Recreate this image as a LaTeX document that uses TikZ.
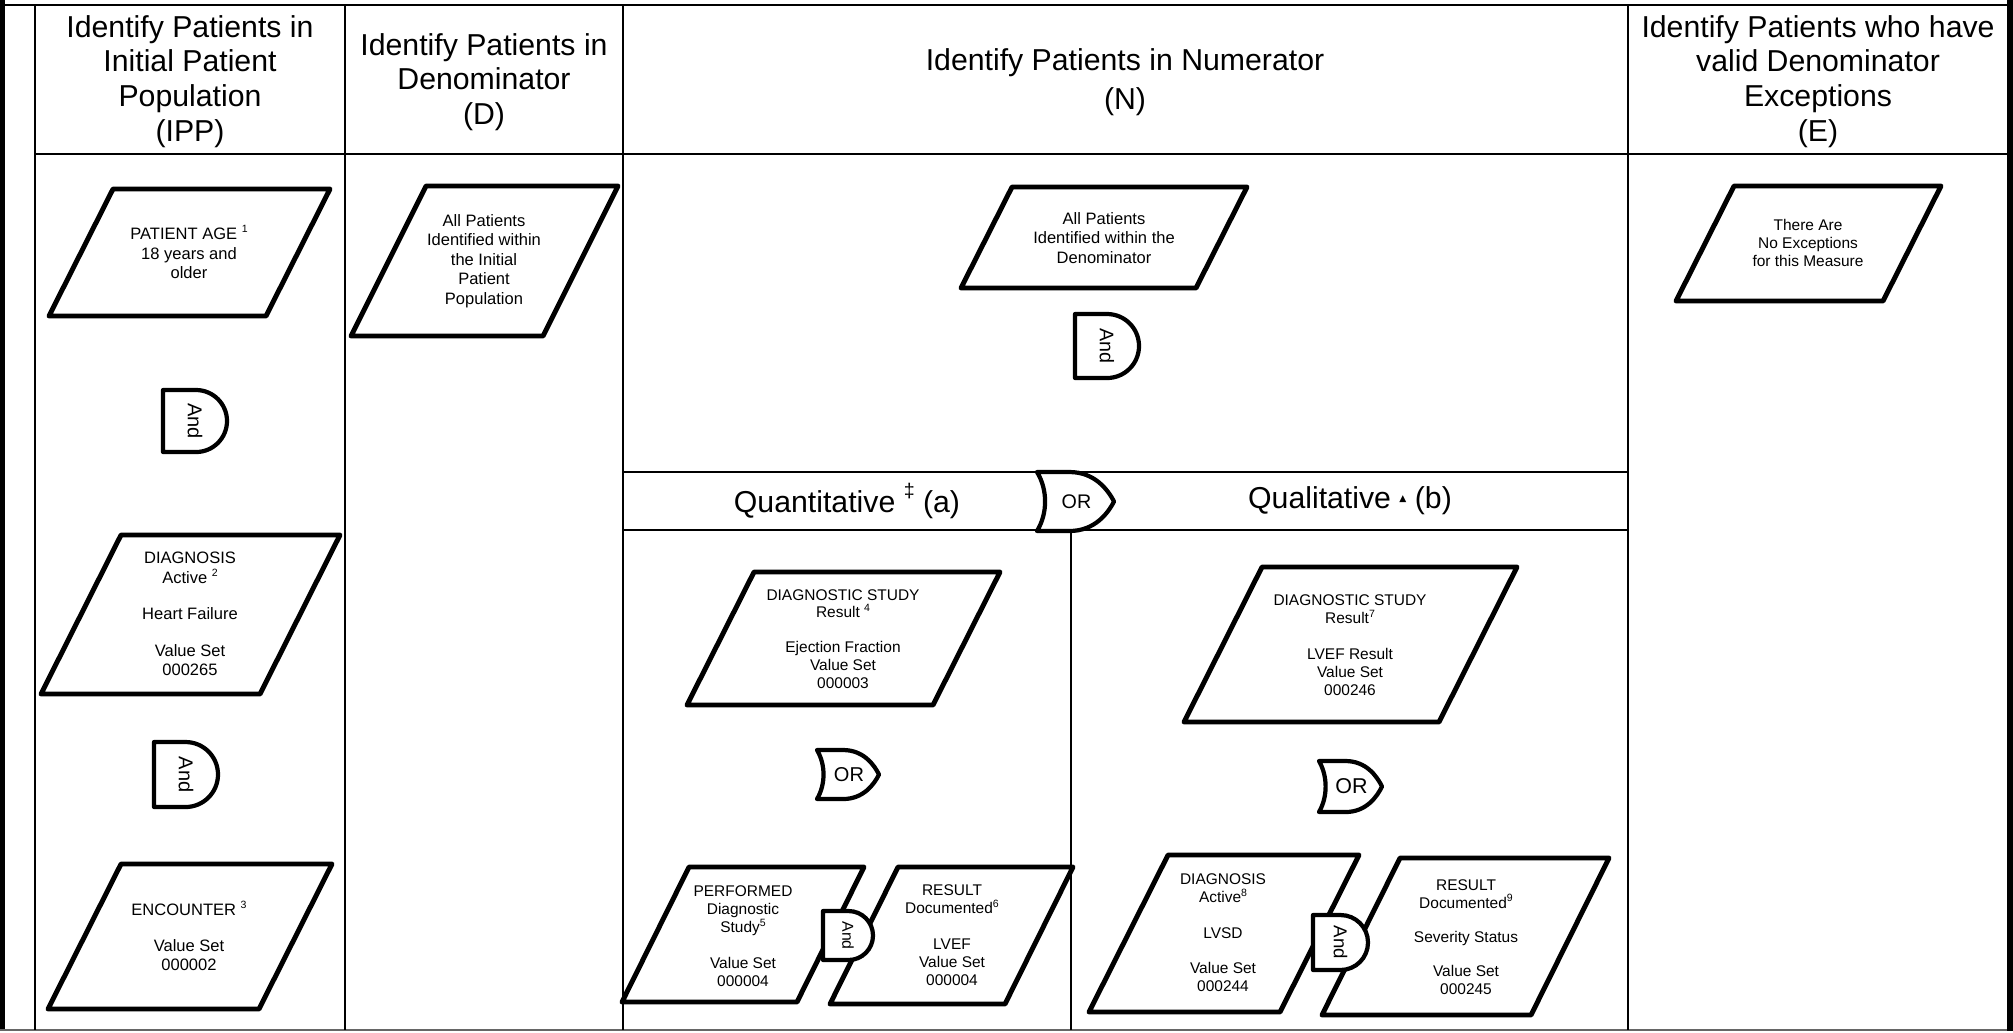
\documentclass[tikz,border=0pt]{standalone}
\usepackage{fontspec}
\setmainfont{Liberation Sans}
\newfontfamily\symfont{DejaVu Sans}
\newcommand{\sps}[1]{\raisebox{0.8ex}{\fontsize{3}{3}\selectfont #1}}
\newcommand{\pgram}[5]{\draw[pbox] (#1,#3) -- (#2,#3) -- ({#2-#5},#4) -- ({#1-#5},#4) -- cycle;}
% and gate: name, L, T, B, W, font size
\newcommand{\andgate}[6]{%
  \pgfmathsetmacro{\gr}{(#4-#3)/2}%
  \draw[gate] (#2,#3) -- ({#2+#5-\gr},#3) arc[start angle=-90, end angle=90, radius=\gr] -- (#2,#4) -- cycle;
  \node[gtxt, rotate=-90, font=\fontsize{#6}{#6}\selectfont] (#1) at ({#2+#5/2},{(#3+#4)/2}) {And};}
% or gate: name, L, T, B, R, font size
\newcommand{\orgate}[6]{%
  \pgfmathsetmacro{\gw}{#5-#2}\pgfmathsetmacro{\gh}{#4-#3}\pgfmathsetmacro{\gm}{(#3+#4)/2}%
  \draw[gate] (#2,#3) -- ({#2+0.42*\gw},#3)
     .. controls ({#2+0.75*\gw},#3) and ({#2+0.92*\gw},{\gm-0.2*\gh}) .. (#5,\gm)
     .. controls ({#2+0.92*\gw},{\gm+0.2*\gh}) and ({#2+0.75*\gw},#4) .. ({#2+0.42*\gw},#4)
     -- (#2,#4)
     .. controls ({#2+0.14*\gw},{\gm+0.2*\gh}) and ({#2+0.14*\gw},{\gm-0.2*\gh}) .. (#2,#3) -- cycle;
  \node[gtxt, font=\fontsize{#6}{#6}\selectfont] (#1) at ({(#2+#5)/2+1},\gm) {OR};}
\tikzset{
  grid/.style={line width=0.5pt},
  pbox/.style={line width=1.4pt, line join=round, fill=white},
  gate/.style={line width=1.2pt, line join=round, fill=white},
  gtxt/.style={inner sep=0pt},
  hdr/.style={align=center, font=\fontsize{8.6}{9.9}\selectfont, inner sep=0pt},
  band/.style={font=\fontsize{8.6}{9.9}\selectfont, inner sep=0pt},
  txt/.style={align=center, font=\fontsize{4.7}{5.55}\selectfont, inner sep=0pt},
  txts/.style={align=center, font=\fontsize{4.4}{5.1}\selectfont, inner sep=0pt},
}
\begin{document}
\begin{tikzpicture}[x=0.01cm, y=-0.01cm]
\useasboundingbox (0,0) rectangle (2013,1032);
% frame
\fill (0,0) rectangle (4.5,1030);
\fill (2007,0) rectangle (2013,1031);
\draw[line width=0.7pt] (0,5) -- (2007,5);
\draw[line width=0.8pt, black!60] (0,1030) -- (2007,1030);
\foreach \cx in {35,345,623,1628} \draw[grid] (\cx,5) -- (\cx,1030);
\draw[grid] (35,154) -- (2007,154);
\draw[grid] (623,472) -- (1628,472);
\draw[grid] (623,530) -- (1628,530);
\draw[grid] (1071,530) -- (1071,1030);
% headers
\node[hdr] (hIPP) at (190,81.5) {Identify Patients in\\Initial Patient\\Population\\(IPP)};
\node[hdr] (hD) at (484,82) {Identify Patients in\\Denominator\\(D)};
\node[hdr] (hN) at (1125,82) {Identify Patients in Numerator\\[1.1pt](N)};
\node[hdr] (hE) at (1818,81.5) {Identify Patients who have\\valid Denominator\\Exceptions\\(E)};
\node[band] (quant) at (847,501) {Quantitative \raisebox{4.5pt}{\fontsize{5.6}{5.6}\selectfont ‡} (a)};
\node[band] (qual) at (1350,501) {Qualitative \raisebox{2pt}{\symfont\fontsize{2.6}{2.6}\selectfont ▲} (b)};
% parallelograms
\pgram{113}{330}{189}{316}{64}
\pgram{121}{340}{535}{694}{80}
\pgram{121}{332}{864}{1009}{73}
\pgram{426}{618}{186}{336}{75}
\pgram{1012}{1247}{187}{288}{51}
\pgram{1734}{1941}{186}{301}{58}
\pgram{754}{1000}{572}{705}{67}
\pgram{689}{864}{867}{1002}{67}
\pgram{898}{1073}{867}{1004}{68}
\pgram{1262}{1517}{567}{722}{78}
\pgram{1168}{1359}{855}{1012}{79}
\pgram{1400}{1609}{858}{1015}{78}
% texts
\node[txt] (pAge) at (189,252) {PATIENT AGE \sps{1}\\18 years and\\older};
\node[txt] (pDiag) at (190,614) {DIAGNOSIS\\Active \sps{2}\\[4.8pt]Heart Failure\\[4.8pt]Value Set\\000265};
\node[txt] (pEnc) at (189,936) {ENCOUNTER \sps{3}\\[4.6pt]Value Set\\000002};
\node[txt] (pDen) at (484,261) {All Patients\\Identified within\\the Initial\\Patient\\Population};
\node[txt] (pNum) at (1104,238) {All Patients\\Identified within the\\Denominator};
\node[txts] (pExc) at (1808,243) {There Are\\No Exceptions\\for this Measure};
\node[txts] (qDS) at (843,639) {DIAGNOSTIC STUDY\\Result \sps{4}\\[4.8pt]Ejection Fraction\\Value Set\\000003};
\node[txts] (qPerf) at (743,936) {PERFORMED\\Diagnostic\\Study\sps{5}\\[5pt]Value Set\\000004};
\node[txts] (qRes) at (952,935) {RESULT\\Documented\sps{6}\\[5pt]LVEF\\Value Set\\000004};
\node[txts] (lDS) at (1350,645) {DIAGNOSTIC STUDY\\Result\sps{7}\\[5pt]LVEF Result\\Value Set\\000246};
\node[txts] (lDiag) at (1223,933) {DIAGNOSIS\\Active\sps{8}\\[5pt]LVSD\\[5pt]Value Set\\000244};
\node[txts] (lRes) at (1466,937) {RESULT\\Documented\sps{9}\\[4.6pt]Severity Status\\[4.6pt]Value Set\\000245};
% gates
\andgate{and1}{163}{390}{452}{64}{5.7}
\andgate{and2}{154}{742}{807}{64}{5.7}
\andgate{and3}{1075}{314}{378}{64}{5.6}
\andgate{and4}{823}{911}{960}{50}{4.5}
\andgate{and5}{1313}{915}{970}{55}{5.3}
\orgate{or1}{1037}{472}{531}{1114}{5.6}
\orgate{or2}{817}{750}{799}{879}{5.7}
\orgate{or3}{1319}{761}{812}{1382}{6.1}
\end{tikzpicture}
\end{document}
